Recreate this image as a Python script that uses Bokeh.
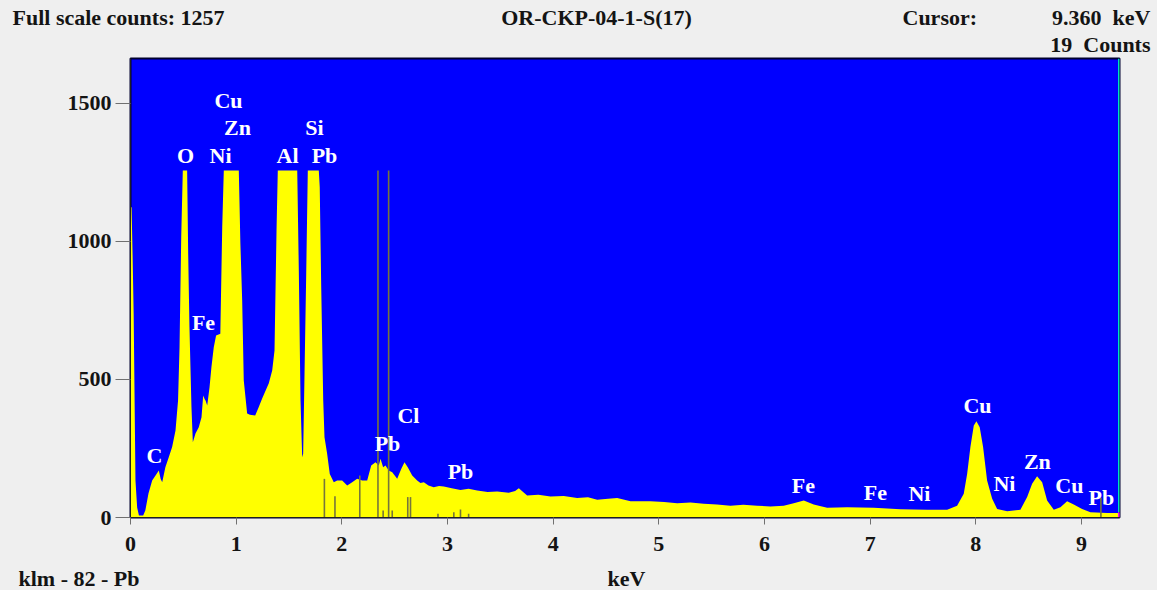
import numpy as np
from bokeh.plotting import figure
from bokeh.layouts import column
from bokeh.models import Range1d, FixedTicker
from bokeh.core.properties import value
from bokeh.embed import file_html
from bokeh.resources import INLINE

# ---------------- data ----------------
FULL_SCALE = 1257
CURSOR_KEV = 9.360
CURSOR_COUNTS = 19
SAMPLE = "OR-CKP-04-1-S(17)"
KLM = "klm - 82 - Pb"
X_TITLE = "keV"

energy_kev = [0.000, 0.010, 0.020, 0.030, 0.047, 0.063, 0.080, 0.120, 0.140, 0.170,
              0.205, 0.237, 0.268, 0.285, 0.300, 0.330, 0.362, 0.394, 0.426, 0.450,
              0.464, 0.480, 0.495, 0.536, 0.546, 0.558, 0.577, 0.590, 0.615, 0.646,
              0.672, 0.688, 0.700, 0.710, 0.726, 0.748, 0.766, 0.788, 0.810, 0.850,
              0.868, 0.883, 1.025, 1.040, 1.057, 1.072, 1.104, 1.130, 1.180, 1.214,
              1.246, 1.309, 1.341, 1.363, 1.382, 1.394, 1.578, 1.593, 1.609, 1.625,
              1.634, 1.647, 1.663, 1.678, 1.782, 1.791, 1.805, 1.824, 1.836, 1.861,
              1.886, 1.924, 1.956, 2.003, 2.051, 2.098, 2.145, 2.193, 2.240, 2.278,
              2.319, 2.350, 2.366, 2.391, 2.413, 2.444, 2.477, 2.524, 2.562, 2.593,
              2.624, 2.666, 2.713, 2.744, 2.776, 2.820, 2.870, 2.920, 2.965, 3.040,
              3.123, 3.200, 3.281, 3.380, 3.470, 3.580, 3.640, 3.675, 3.754, 3.860,
              3.975, 4.100, 4.227, 4.330, 4.417, 4.520, 4.606, 4.732, 4.921, 5.050,
              5.174, 5.300, 5.425, 5.550, 5.678, 5.800, 5.931, 6.057, 6.182, 6.277,
              6.372, 6.466, 6.593, 6.782, 7.034, 7.287, 7.540, 7.729, 7.823, 7.886,
              7.918, 7.949, 7.981, 8.006, 8.037, 8.069, 8.107, 8.155, 8.202, 8.297,
              8.422, 8.486, 8.533, 8.580, 8.628, 8.675, 8.738, 8.801, 8.864, 8.927,
              9.006, 9.085, 9.243, 9.360]
counts = [1124, 1124, 949, 739, 134, 36, 7, 7, 25, 87,
          134, 152, 170, 140, 128, 182, 218, 255, 315, 424,
          617, 1016, 1257, 1257, 956, 690, 400, 273, 304, 327,
          363, 442, 430, 424, 406, 472, 545, 617, 659, 666,
          1052, 1257, 1257, 993, 786, 496, 377, 372, 370, 400,
          431, 486, 533, 605, 1040, 1257, 1257, 895, 424, 218,
          231, 522, 884, 1257, 1257, 1197, 834, 424, 291, 231,
          158, 128, 134, 134, 116, 128, 140, 134, 134, 188,
          200, 188, 213, 182, 188, 170, 164, 140, 176, 200,
          182, 152, 134, 125, 128, 116, 110, 114, 112, 106,
          100, 104, 98, 92, 94, 90, 96, 106, 80, 82,
          76, 78, 71, 73, 64, 68, 71, 59, 59, 56,
          52, 54, 50, 47, 43, 46, 43, 40, 43, 52,
          62, 47, 35, 37, 35, 30, 28, 28, 43, 86,
          158, 255, 333, 349, 327, 255, 134, 68, 31, 23,
          28, 74, 122, 149, 128, 62, 28, 37, 59, 47,
          31, 19, 16, 16]

# Pb KLM marker lines
marker_kev = [1.835, 1.935, 2.170, 2.342, 2.391, 2.443, 2.477, 2.624, 2.650,
              2.910, 3.060, 3.123, 3.200, 9.184]
marker_counts = [140, 77, 152, 1257, 25, 1257, 25, 74, 74,
                 14, 19, 29, 14, 72]

# element labels
peak_labels = ["C", "O", "Ni", "Zn", "Cu", "Fe", "Al", "Si", "Pb", "Pb", "Cl", "Pb",
               "Fe", "Fe", "Ni", "Cu", "Ni", "Zn", "Cu", "Pb"]
peak_label_kev = [0.227, 0.521, 0.852, 1.013, 0.927, 0.691, 1.486, 1.741, 1.836,
                  2.432, 2.630, 3.123, 6.369, 7.050, 7.467, 8.016, 8.271, 8.583,
                  8.886, 9.189]
peak_label_counts = [225, 1311, 1311, 1413, 1511, 707, 1311, 1413, 1311, 268, 370,
                     167, 116, 91, 87, 406, 123, 203, 116, 72]

x_ticks = [0, 1, 2, 3, 4, 5, 6, 7, 8, 9]
y_ticks = [0, 500, 1000, 1500]

# ---------------- layout ----------------
W = 1157
HEAD_H, MAIN_H, FOOT_H = 57, 503, 30
FL, FR = 130, 1119
FRAME_TOP_GAP = 1
FRAME_BOTTOM_GAP = 43
X_END = 9.36
Y_END = 1663
FONT = "Liberation Serif"
FS = "22px"
INK = "#141414"
BG = "#efefef"
NBSP = "\u00a0"


def strip(h):
    f = figure(width=W, height=h, x_range=Range1d(0, W), y_range=Range1d(h, 0),
               output_backend="svg", toolbar_location=None,
               x_axis_type=None, y_axis_type=None, min_border=0,
               frame_align=False)
    f.background_fill_color = BG
    f.border_fill_color = BG
    f.outline_line_color = None
    f.xgrid.visible = False
    f.ygrid.visible = False
    return f


def put(f, xs, ys, texts, align):
    f.text(x=xs, y=ys, text=texts, text_font=value(FONT), text_font_style="bold",
           text_font_size=FS, text_color=INK, text_align=align,
           text_baseline="middle")


# header
head = strip(HEAD_H)
put(head, [12, 902], [17, 17], ["Full scale counts: %d" % FULL_SCALE, "Cursor:"], "left")
put(head, [596], [17], [SAMPLE], "center")
put(head, [1150, 1150], [17, 44],
    ["%.3f%s keV" % (CURSOR_KEV, NBSP), "%d%s Counts" % (CURSOR_COUNTS, NBSP)], "right")

# main spectrum
p = figure(width=W, height=MAIN_H, x_range=Range1d(0, X_END), y_range=Range1d(0, Y_END),
           output_backend="svg", toolbar_location=None,
           min_border_left=FL, min_border_right=W - FR,
           min_border_top=FRAME_TOP_GAP, min_border_bottom=FRAME_BOTTOM_GAP,
           frame_align=False)
p.background_fill_color = "#0000ff"
p.border_fill_color = BG
p.outline_line_color = "#000030"
p.outline_line_width = 2
p.xgrid.visible = False
p.ygrid.visible = False

shown = np.minimum(np.array(counts, dtype=float), FULL_SCALE)
p.varea(x=energy_kev, y1=0, y2=shown, fill_color="#ffff00")

p.segment(x0=marker_kev, y0=0, x1=marker_kev, y1=marker_counts,
          line_color="#76763c", line_width=1.6)

# cursor
p.segment(x0=[CURSOR_KEV], y0=[CURSOR_COUNTS], x1=[CURSOR_KEV], y1=[Y_END],
          line_color="#00e0c0", line_width=3)
p.segment(x0=[CURSOR_KEV], y0=[0], x1=[CURSOR_KEV], y1=[CURSOR_COUNTS],
          line_color="#ff00ff", line_width=3)

p.text(x=peak_label_kev, y=peak_label_counts, text=peak_labels,
       text_color="white", text_font=value(FONT), text_font_style="bold",
       text_font_size=FS, text_align="center", text_baseline="middle")

for ax, ticks, out in ((p.xaxis, x_ticks, 7), (p.yaxis, y_ticks, 15)):
    ax.ticker = FixedTicker(ticks=ticks)
    ax.major_tick_out = out
    ax.major_tick_in = 0
    ax.minor_tick_line_color = None
    ax.major_tick_line_color = "#707070"
    ax.axis_line_color = "#202020"
    ax.major_label_text_font = FONT
    ax.major_label_text_font_style = "bold"
    ax.major_label_text_font_size = FS
    ax.major_label_text_color = INK
p.xaxis.major_label_standoff = 12
p.yaxis.major_label_standoff = 4

# footer
foot = strip(FOOT_H)
put(foot, [18], [18], [KLM], "left")
put(foot, [626], [18], [X_TITLE], "center")

layout = column(head, p, foot, spacing=0, styles={"background-color": BG})
open("out.html", "w").write(file_html(layout, INLINE))
